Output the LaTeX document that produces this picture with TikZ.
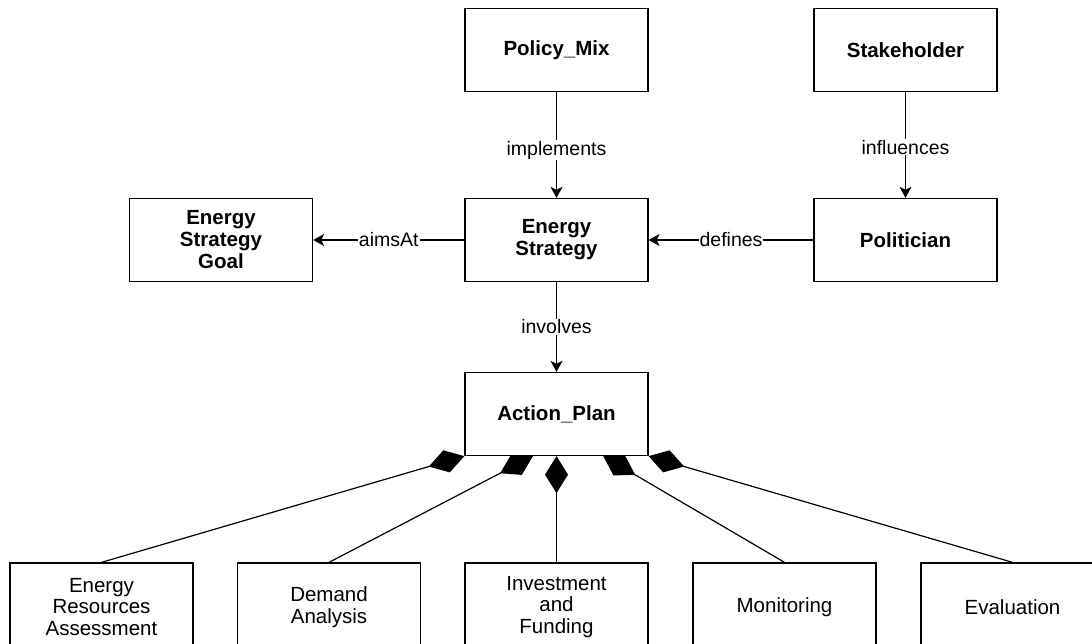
\documentclass[tikz,border=0pt]{standalone}
\usepackage{fontspec}
\setmainfont{Liberation Sans}
\usetikzlibrary{arrows.meta,calc,backgrounds}
\begin{document}
\begin{tikzpicture}[x=1pt,y=-1pt,
  box/.style={draw=black,line width=1.3pt,fill=white,minimum width=183pt,
    minimum height=83pt,inner sep=0pt,align=center,
    font=\fontsize{20.5}{21.5}\selectfont},
  part/.style={box,minimum height=88pt},
  cls/.style={box,font=\bfseries\fontsize{20.5}{22}\selectfont},
  rel/.style={line width=1.3pt,-{Stealth[length=11pt,width=12pt,inset=3pt]}},
  lbl/.style={fill=white,inner sep=1pt,font=\fontsize{19.5}{22}\selectfont},
  comp/.style={line width=1.2pt,-{Diamond[length=37pt,width=23pt]}}
]
\useasboundingbox (0,0) rectangle (1092,644);
\clip (0,0) rectangle (1092,644);

% classes
\node[cls] (policy) at (556.5,50)  {Policy\_Mix};
\node[cls] (stake)  at (905.5,50)  {Stakeholder};
\node[cls] (goal)   at (221,240)   {Energy\\Strategy\\Goal};
\node[cls] (strat)  at (556.5,240) {Energy\\Strategy};
\node[cls] (pol)    at (905.5,240) {Politician};
\node[cls] (action) at (556.5,414) {Action\_Plan};

% parts of the action plan
\node[part] (era) at (101.5,607)  {Energy\\Resources\\Assessment};
\node[part] (dem) at (329,607)    {Demand\\Analysis};
\node[part] (inv) at (556.5,607)  {Investment\\and\\Funding};
\node[part] (mon) at (784.5,607)  {Monitoring};
\node[part] (eva) at (1012.5,607) {Evaluation};

% associations
\draw[rel] (policy) -- node[lbl,pos=0.55]{implements} (strat);
\draw[rel] (stake)  -- node[lbl,pos=0.52]{influences} (pol);
\draw[rel] (strat)  -- node[lbl]{aimsAt} (goal);
\draw[rel] (pol)    -- node[lbl]{defines} (strat);
\draw[rel] (strat)  -- node[lbl]{involves} (action);

% compositions, drawn beneath the boxes
\begin{pgfonlayer}{background}
\draw[comp] (era.north) -- (action.south west);
\draw[comp] (dem.north) -- ($(action.south west)!0.372!(action.south east)$);
\draw[comp] (inv.north) -- (action.south);
\draw[comp] (mon.north) -- ($(action.south west)!0.754!(action.south east)$);
\draw[comp] (eva.north) -- (action.south east);
\end{pgfonlayer}
\end{tikzpicture}
\end{document}
